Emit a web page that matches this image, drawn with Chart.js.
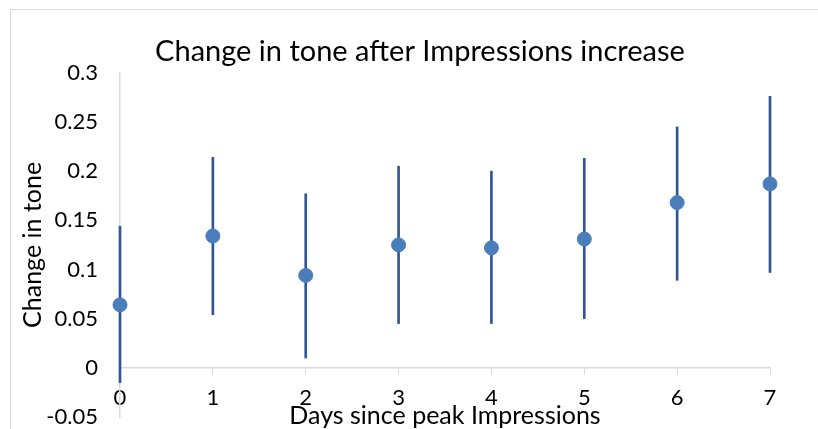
<!DOCTYPE html>
<html>
<head>
<meta charset="utf-8">
<script src="https://cdn.jsdelivr.net/npm/chart.js@4.4.1/dist/chart.umd.min.js"></script>
<style>
  html, body { margin: 0; padding: 0; background: #fff; overflow: hidden; }
  #wrap { position: relative; width: 818px; height: 429px; }
  #frame {
    position: absolute; left: 10px; top: 9px; width: 900px; height: 500px;
    border: 1px solid #d9d9d9; pointer-events: none;
  }
  #toneChart { position: absolute; left: 0; top: 0; }
</style>
</head>
<body>
<div id="wrap">
  <div id="frame"></div>
  <canvas id="toneChart" width="818" height="429"></canvas>
</div>
<script>
// values
const days = [0, 1, 2, 3, 4, 5, 6, 7];
const toneChange = [0.064, 0.134, 0.094, 0.125, 0.122, 0.131, 0.168, 0.187];
const lowerBound = [-0.015, 0.054, 0.010, 0.045, 0.045, 0.050, 0.089, 0.097];
const upperBound = [0.144, 0.214, 0.177, 0.205, 0.200, 0.213, 0.245, 0.276];

const fontFamily = "Lato, 'Noto Sans', sans-serif";
let chart;

function buildDatasets() {
  const points = days.map((d, i) => ({ x: d, y: toneChange[i] }));
  // error bars as thin floating bars
  const bars = days.map((d, i) => ({ x: d, y: [lowerBound[i], upperBound[i]] }));
  return [
    {
      type: "scatter",
      label: "Change in tone",
      data: points,
      backgroundColor: "#4a7ebb",
      borderColor: "#4a7ebb",
      pointRadius: 7,
      pointHoverRadius: 7,
      clip: false,
      order: 0,
    },
    {
      type: "bar",
      label: "range",
      data: bars,
      backgroundColor: "#2f5592",
      barThickness: 2,
      clip: false,
      order: 1,
    },
  ];
}

function drawChart() {
  const ctx = document.getElementById("toneChart").getContext("2d");
  chart = new Chart(ctx, {
    type: "scatter",
    data: { datasets: buildDatasets() },
    options: {
      responsive: false,
      animation: false,
      layout: { padding: { left: 22, right: 0, top: 0, bottom: 12 } },
      plugins: {
        legend: { display: false },
        tooltip: { enabled: false },
        title: {
          display: true,
          text: "Change in tone after Impressions increase",
          color: "#000",
          font: { family: fontFamily, size: 29, weight: "normal" },
          padding: { top: 34, bottom: 4 },
        },
      },
      scales: {
        x: {
          type: "linear",
          position: { y: 0 },
          min: 0,
          max: 7,
          offset: false,
          ticks: {
            stepSize: 1,
            color: "#000",
            padding: 11,
            font: { family: fontFamily, size: 22 },
          },
          grid: {
            offset: false,
            drawOnChartArea: false,
            drawTicks: true,
            tickLength: 6,
            color: "#d9d9d9",
          },
          border: { display: true, color: "#d9d9d9", width: 1.5 },
          title: {
            display: true,
            text: "Days since peak Impressions",
            color: "#000",
            font: { family: fontFamily, size: 25 },
            // top padding moves the title, pulled up close to the tick labels
            padding: { top: -21, bottom: 0 },
          },
        },
        y: {
          min: -0.05,
          max: 0.3,
          ticks: {
            stepSize: 0.05,
            color: "#000",
            padding: 22,
            font: { family: fontFamily, size: 22 },
            callback: (v) => String(+v.toFixed(2)),
          },
          grid: { drawOnChartArea: false, drawTicks: false },
          border: { display: true, color: "#d9d9d9", width: 1.5 },
          title: {
            display: true,
            text: "Change in tone",
            color: "#000",
            font: { family: fontFamily, size: 25 },
            padding: { top: -4, bottom: 0 },
          },
          afterFit: (scale) => {
            scale.width = 98;
            scale.paddingTop = 0;
            scale.paddingBottom = 0;
          },
        },
        // empty right axis, only keeps the plot clear of the right edge
        yRight: {
          type: "linear",
          position: "right",
          display: true,
          ticks: { display: false },
          grid: { display: false },
          border: { display: false },
          afterFit: (scale) => {
            scale.width = 48;
          },
        },
      },
    },
  });
}

window.addEventListener("load", drawChart);
</script>
</body>
</html>
